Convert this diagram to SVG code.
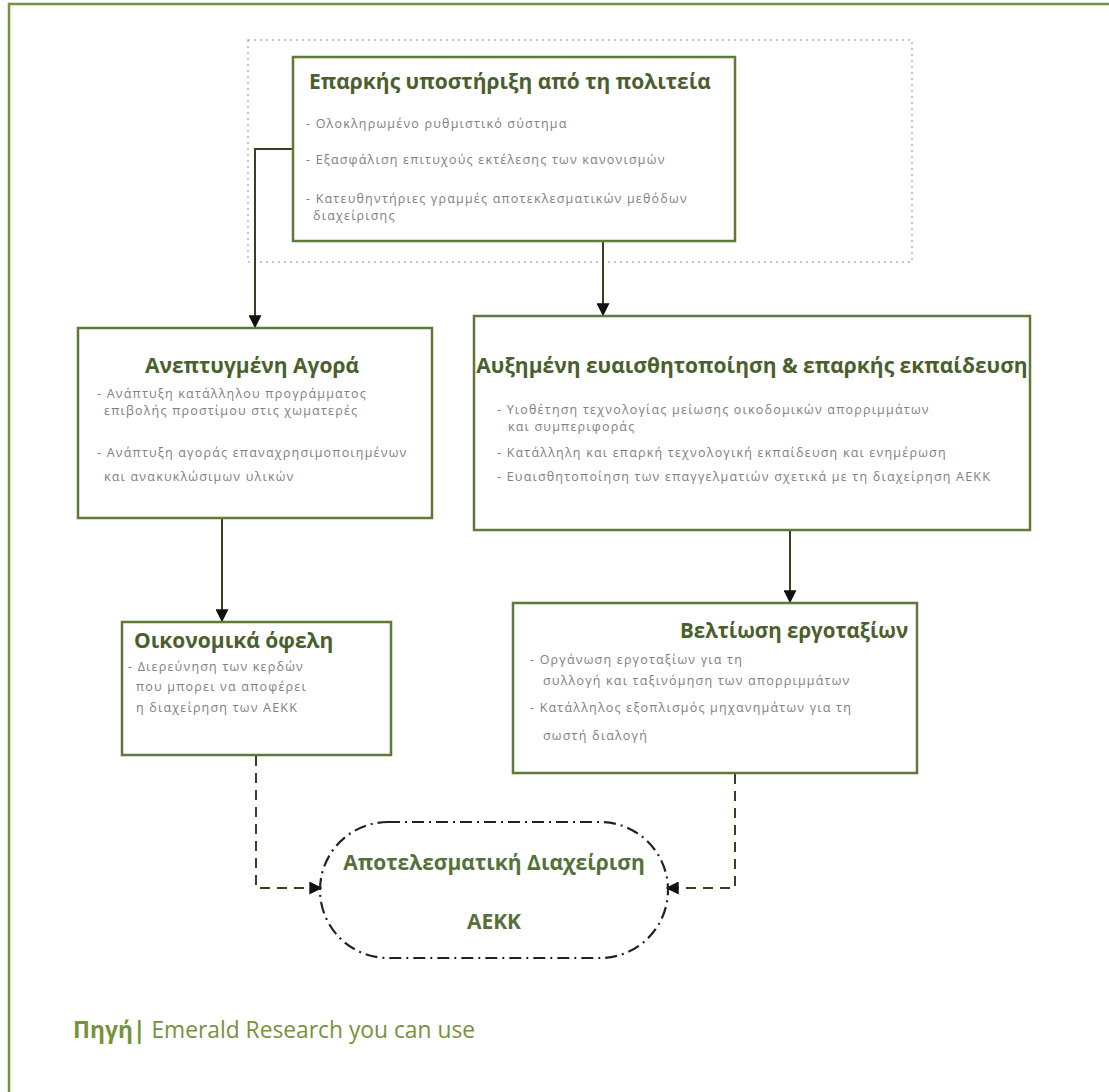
<svg xmlns="http://www.w3.org/2000/svg" width="1109" height="1092" viewBox="0 0 1109 1092">
  <defs>
    <marker id="arrow" viewBox="0 0 10 10" refX="9" refY="5" markerWidth="13" markerHeight="13" markerUnits="userSpaceOnUse" orient="auto">
      <path d="M0,0 L10,5 L0,10 z" fill="#111"/>
    </marker>
    <style>
      .frame { stroke: #77933c; stroke-width: 2.5; fill: none; }
      .box { fill: #fff; stroke: #5f7a36; stroke-width: 2.5; }
      .title { font-family: "Open Sans", "Liberation Sans", sans-serif; font-weight: bold; font-size: 21px; fill: #4b5f2c; }
      .item { font-family: "Open Sans", "Liberation Sans", sans-serif; font-size: 12.5px; letter-spacing: 1.2px; fill: #808080; }
      .solid { stroke: #34421e; stroke-width: 2; fill: none; }
      .dashed { stroke: #34421e; stroke-width: 2; fill: none; stroke-dasharray: 10 7; }
      .foot { font-family: "Open Sans", "Liberation Sans", sans-serif; font-size: 22.8px; fill: #76923c; }
    </style>
  </defs>

  <rect width="1109" height="1092" fill="#fff"/>

  <!-- page frame -->
  <path class="frame" d="M9,1092 V4 H1109"/>

  <!-- dotted grouping frame -->
  <rect x="248" y="40" width="664" height="222" fill="none" stroke="#b3bca6" stroke-width="1.5" stroke-dasharray="2 4"/>

  <!-- connectors -->
  <g id="connectors">
    <path class="solid" d="M293,149 H255 V327" marker-end="url(#arrow)"/>
    <path class="solid" d="M603,241 V315" marker-end="url(#arrow)"/>
    <path class="solid" d="M222,518 V621" marker-end="url(#arrow)"/>
    <path class="solid" d="M790,531 V602" marker-end="url(#arrow)"/>
    <path class="dashed" d="M256,756 V888 H321" marker-end="url(#arrow)"/>
    <path class="dashed" d="M735,774 V888 H667" marker-end="url(#arrow)"/>
  </g>

  <g id="state-support">
    <rect class="box" x="293" y="57" width="442" height="184"/>
    <text class="title" x="309" y="89">Επαρκής υποστήριξη από τη πολιτεία</text>
    <text class="item" x="306" y="128">- Ολοκληρωμένο ρυθμιστικό σύστημα</text>
    <text class="item" x="306" y="164">- Εξασφάλιση επιτυχούς εκτέλεσης των κανονισμών</text>
    <text class="item" x="306" y="203">- Κατευθηντήριες γραμμές αποτεκλεσματικών μεθόδων</text>
    <text class="item" x="313" y="220">διαχείρισης</text>
  </g>

  <g id="developed-market">
    <rect class="box" x="78" y="328" width="354" height="190"/>
    <text class="title" x="252" y="373" text-anchor="middle">Ανεπτυγμένη Αγορά</text>
    <text class="item" x="97" y="398">- Ανάπτυξη κατάλληλου προγράμματος</text>
    <text class="item" x="104" y="415">επιβολής προστίμου στις χωματερές</text>
    <text class="item" x="97" y="457">- Ανάπτυξη αγοράς επαναχρησιμοποιημένων</text>
    <text class="item" x="104" y="481">και ανακυκλώσιμων υλικών</text>
  </g>

  <g id="awareness-training">
    <rect class="box" x="474" y="316" width="556" height="214"/>
    <text class="title" x="752" y="373" text-anchor="middle">Αυξημένη ευαισθητοποίηση &amp; επαρκής εκπαίδευση</text>
    <text class="item" x="497" y="414">- Υιοθέτηση τεχνολογίας μείωσης οικοδομικών απορριμμάτων</text>
    <text class="item" x="508" y="431">και συμπεριφοράς</text>
    <text class="item" x="497" y="457">- Κατάλληλη και επαρκή τεχνολογική εκπαίδευση και ενημέρωση</text>
    <text class="item" x="497" y="481">- Ευαισθητοποίηση των επαγγελματιών σχετικά με τη διαχείρηση ΑΕΚΚ</text>
  </g>

  <g id="economic-benefits">
    <rect class="box" x="122" y="622" width="269" height="133"/>
    <text class="title" x="134" y="648">Οικονομικά όφελη</text>
    <text class="item" x="128" y="671">- Διερεύνηση των κερδών</text>
    <text class="item" x="136" y="691">που μπορει να αποφέρει</text>
    <text class="item" x="136" y="712">η διαχείρηση των ΑΕΚΚ</text>
  </g>

  <g id="site-improvement">
    <rect class="box" x="513" y="603" width="404" height="170"/>
    <text class="title" x="680" y="638" style="font-size:20.5px">Βελτίωση εργοταξίων</text>
    <text class="item" x="530" y="664">- Οργάνωση εργοταξίων για τη</text>
    <text class="item" x="543" y="685">συλλογή και ταξινόμηση των απορριμμάτων</text>
    <text class="item" x="530" y="712">- Κατάλληλος εξοπλισμός μηχανημάτων για τη</text>
    <text class="item" x="543" y="740">σωστή διαλογή</text>
  </g>

  <g id="effective-management">
    <rect x="320" y="822" width="348" height="136" rx="68" ry="68" fill="none" stroke="#222" stroke-width="2.2" stroke-dasharray="12 5 2 5"/>
    <text class="title" x="494" y="870" text-anchor="middle" style="fill:#55703a">Αποτελεσματική Διαχείριση</text>
    <text class="title" x="494" y="929" text-anchor="middle" style="fill:#55703a">ΑΕΚΚ</text>
  </g>

  <!-- source line -->
  <text class="foot" x="73" y="1038"><tspan font-weight="bold">Πηγή|</tspan> Emerald Research you can use</text>
</svg>
